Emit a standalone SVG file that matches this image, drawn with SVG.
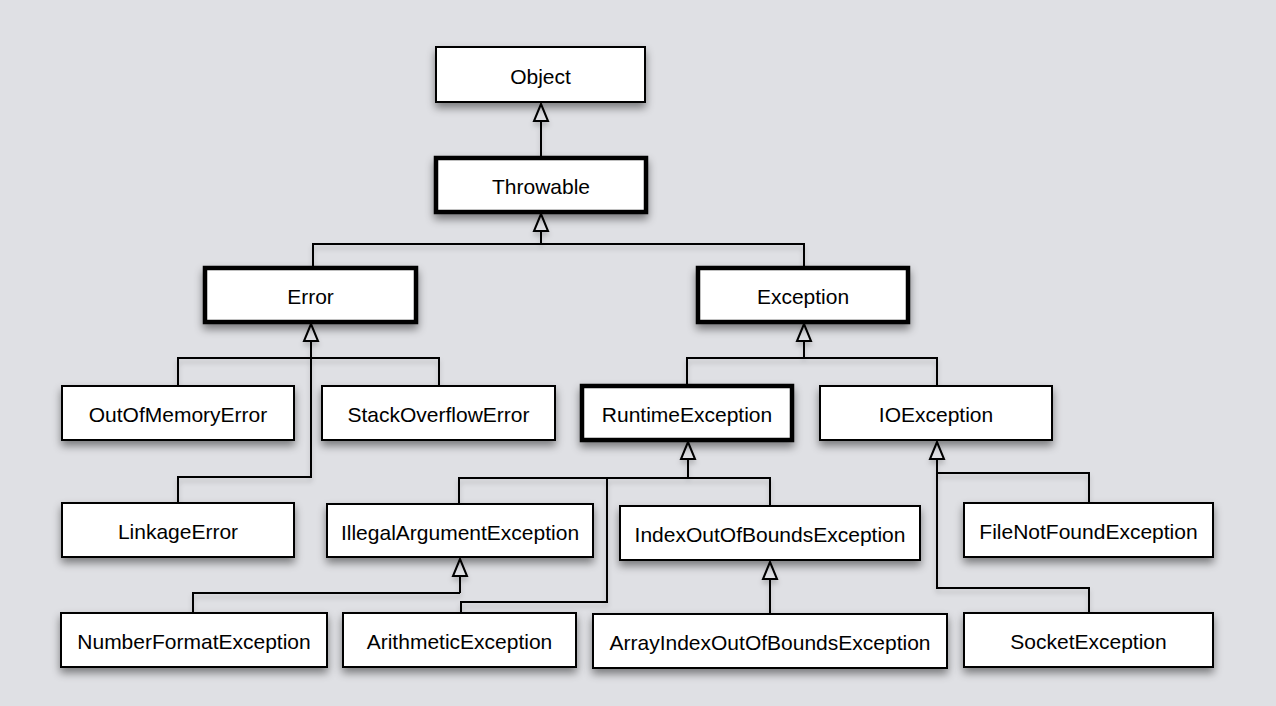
<svg xmlns="http://www.w3.org/2000/svg" width="1276" height="706" viewBox="0 0 1276 706">
<defs>
<filter id="sh" x="-20%" y="-30%" width="140%" height="180%">
<feDropShadow dx="0" dy="5" stdDeviation="4" flood-color="#000" flood-opacity="0.45"/>
</filter>
<filter id="lsh" x="-5%" y="-20%" width="110%" height="160%">
<feDropShadow dx="0" dy="4" stdDeviation="2.5" flood-color="#000" flood-opacity="0.18"/>
</filter>
<style>
.box{fill:#fff;stroke:#000;stroke-width:2;filter:url(#sh)}
.thick{stroke-width:4.5}
.lbl{font-family:"Liberation Sans",Arial,sans-serif;font-size:21px;fill:#000;text-anchor:middle}
.con{fill:none;stroke:#000;stroke-width:2;stroke-linejoin:miter}
.tri{fill:#dfe0e4;stroke:#000;stroke-width:2;stroke-linejoin:miter}
</style>
</defs>
<rect width="1276" height="706" fill="#dfe0e4"/>

<g id="connectors" filter="url(#lsh)">
<path class="con" d="M541 158V121"/>
<polygon class="tri" points="541,104 534,121 548,121"/>

<path class="con" d="M541 231V244M313 268V244H804V268"/>
<polygon class="tri" points="541,214 534,231 548,231"/>

<path class="con" d="M311 341V477H178V503M178 386V358H439V386"/>
<polygon class="tri" points="311,324 304,341 318,341"/>

<path class="con" d="M804 341V358M687 386V358H937V386"/>
<polygon class="tri" points="804,324 797,341 811,341"/>

<path class="con" d="M688 459V478M459 504V478H770V506M607 478V602H461V613"/>
<polygon class="tri" points="688,442 681,459 695,459"/>

<path class="con" d="M460 576V593M193 613V593H460"/>
<polygon class="tri" points="460,559 453,576 467,576"/>

<path class="con" d="M770 579V614"/>
<polygon class="tri" points="770,562 763,579 777,579"/>

<path class="con" d="M937 459V588H1089V613M937 473H1089V503"/>
<polygon class="tri" points="937,442 930,459 944,459"/>
</g>

<g id="object"><rect class="box" x="436" y="47" width="209" height="55"/><text class="lbl" x="540.5" y="84">Object</text></g>
<g id="throwable"><rect class="box thick" x="436" y="158" width="210" height="54"/><text class="lbl" x="541" y="194">Throwable</text></g>
<g id="error"><rect class="box thick" x="205" y="268" width="211" height="54"/><text class="lbl" x="310.5" y="304">Error</text></g>
<g id="exception"><rect class="box thick" x="698" y="268" width="210" height="54"/><text class="lbl" x="803" y="304">Exception</text></g>
<g id="outofmemoryerror"><rect class="box" x="62" y="386" width="232" height="54"/><text class="lbl" x="178" y="422">OutOfMemoryError</text></g>
<g id="stackoverflowerror"><rect class="box" x="322" y="386" width="233" height="54"/><text class="lbl" x="438.5" y="422">StackOverflowError</text></g>
<g id="runtimeexception"><rect class="box thick" x="582" y="386" width="210" height="54"/><text class="lbl" x="687" y="422">RuntimeException</text></g>
<g id="ioexception"><rect class="box" x="820" y="386" width="232" height="54"/><text class="lbl" x="936" y="422">IOException</text></g>
<g id="linkageerror"><rect class="box" x="62" y="503" width="232" height="54"/><text class="lbl" x="178" y="539">LinkageError</text></g>
<g id="illegalargumentexception"><rect class="box" x="327" y="504" width="266" height="53"/><text class="lbl" x="460" y="540">IllegalArgumentException</text></g>
<g id="indexoutofboundsexception"><rect class="box" x="620" y="506" width="300" height="54"/><text class="lbl" x="770" y="542">IndexOutOfBoundsException</text></g>
<g id="filenotfoundexception"><rect class="box" x="964" y="503" width="249" height="54"/><text class="lbl" x="1088.5" y="539">FileNotFoundException</text></g>
<g id="numberformatexception"><rect class="box" x="61" y="613" width="266" height="54"/><text class="lbl" x="194" y="649">NumberFormatException</text></g>
<g id="arithmeticexception"><rect class="box" x="343" y="613" width="233" height="54"/><text class="lbl" x="459.5" y="649">ArithmeticException</text></g>
<g id="arrayindexoutofboundsexception"><rect class="box" x="593" y="614" width="354" height="54"/><text class="lbl" x="770" y="650">ArrayIndexOutOfBoundsException</text></g>
<g id="socketexception"><rect class="box" x="964" y="613" width="249" height="54"/><text class="lbl" x="1088.5" y="649">SocketException</text></g>
</svg>
